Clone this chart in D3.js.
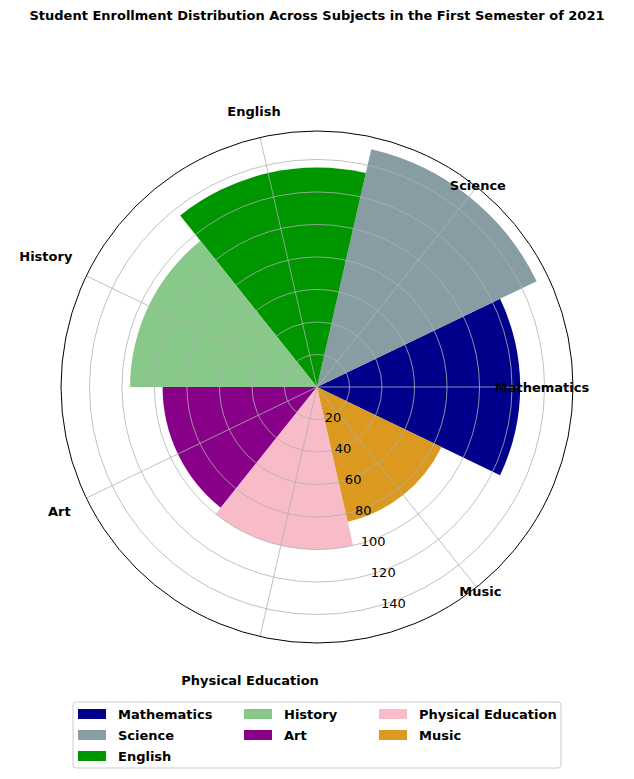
<!DOCTYPE html>
<html><head><meta charset="utf-8">
<script src="https://cdn.jsdelivr.net/npm/d3@7"></script>
<style>body{margin:0;background:#fff;font-family:"DejaVu Sans",sans-serif}</style>
</head><body><svg id="c" width="634" height="779"></svg>
<script>
const categories=["Mathematics","Science","English","History","Art","Physical Education","Music"];
const values=[125,150,135,115,95,100,85];
const colors=["#00008B","#889da3","#009600","#88c888","#880088","#f8bbc8","#DB9920"];
const ticks=[20,40,60,80,100,120,140];

const svg=d3.select("#c");
const cx=317,cy=387,R=256,rmax=157.5;
const r=d3.scaleLinear().domain([0,rmax]).range([0,R]);
const n=categories.length,w=2*Math.PI/n;
// angle in math convention (ccw from east) -> d3 arc angle (cw from north)
const toArc=a=>Math.PI/2-a;
const g=svg.append("g").attr("transform",`translate(${cx},${cy})`);
const arc=d3.arc().innerRadius(0);
categories.forEach((c,i)=>{
  const a=i*w;
  g.append("path").attr("d",arc({outerRadius:r(values[i]),startAngle:toArc(a+w/2),endAngle:toArc(a-w/2)}))
   .attr("fill",colors[i]);
});
// grid
ticks.forEach(t=>g.append("circle").attr("r",r(t)).attr("fill","none").attr("stroke","#b0b0b0").attr("stroke-width",0.8));
categories.forEach((c,i)=>{
  const a=i*w;
  g.append("line").attr("x2",R*Math.cos(a)).attr("y2",-R*Math.sin(a)).attr("stroke","#b0b0b0").attr("stroke-width",0.8);
});
g.append("circle").attr("r",R).attr("fill","none").attr("stroke","#000").attr("stroke-width",1);
// radial tick labels
const la=-72*Math.PI/180;
ticks.forEach(t=>g.append("text").attr("x",r(t)*Math.cos(la)+6).attr("y",-r(t)*Math.sin(la)).attr("dy","0.35em")
  .attr("text-anchor","middle").attr("font-size",13).text(t));
// category labels
const lr=[225,258,283,301,286,301,262];
categories.forEach((c,i)=>{
  const a=i*w;
  g.append("text").attr("x",lr[i]*Math.cos(a)).attr("y",-lr[i]*Math.sin(a)).attr("dy","0.35em")
   .attr("text-anchor","middle").attr("font-size",13).attr("font-weight","bold").text(c);
});
svg.append("text").attr("x",317).attr("y",20).attr("text-anchor","middle").attr("font-size",13).attr("font-weight","bold")
  .text("Student Enrollment Distribution Across Subjects in the First Semester of 2021");
// legend
svg.append("rect").attr("x",73).attr("y",702).attr("width",488).attr("height",66).attr("rx",3)
  .attr("fill","#fff").attr("stroke","#ccc");
const colX=[78,244,379],rowY=[714,735,756];
categories.forEach((c,i)=>{
  const col=i<3?0:(i<5?1:2),row=i<3?i:(i<5?i-3:i-5);
  const x=colX[col],y=rowY[row];
  svg.append("rect").attr("x",x).attr("y",y-5).attr("width",28).attr("height",10).attr("fill",colors[i]);
  svg.append("text").attr("x",x+40).attr("y",y).attr("dy","0.35em").attr("font-size",13).attr("font-weight","bold").text(c);
});
</script></body></html>
